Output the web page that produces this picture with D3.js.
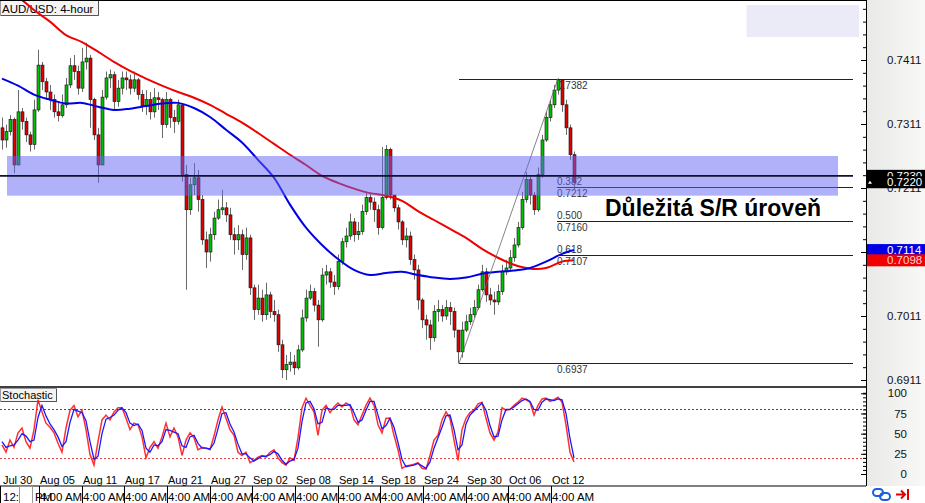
<!DOCTYPE html>
<html><head><meta charset="utf-8">
<script src="https://cdn.jsdelivr.net/npm/d3@7"></script>
<style>
body{margin:0;background:#fff;}
svg{display:block;font-family:"Liberation Sans",Arial,sans-serif;}
</style></head><body>
<svg id="c" width="925" height="503"></svg>
<script>
// ---------------- DATA ----------------
const firstOpen = 0.7305;
const closes = [0.7286,0.7299,0.7318,0.7247,0.7330,0.7315,0.7294,0.7279,0.7333,0.7403,
0.7377,0.7361,0.7349,0.7330,0.7324,0.7341,0.7372,0.7402,0.7393,0.7367,
0.7408,0.7414,0.7349,0.7294,0.7247,0.7353,0.7383,0.7388,0.7346,0.7367,
0.7383,0.7380,0.7367,0.7380,0.7357,0.7339,0.7349,0.7330,0.7352,0.7349,
0.7310,0.7349,0.7321,0.7315,0.7341,0.7232,0.7177,0.7216,0.7227,0.7193,
0.7130,0.7111,0.7138,0.7164,0.7177,0.7180,0.7169,0.7138,0.7130,0.7138,
0.7107,0.7133,0.7055,0.7021,0.7039,0.7013,0.7044,0.7018,0.7013,0.6966,
0.6927,0.6935,0.6939,0.6930,0.6958,0.7008,0.7039,0.7049,0.7028,0.7005,
0.7075,0.7080,0.7064,0.7057,0.7096,0.7127,0.7136,0.7158,0.7138,0.7143,
0.7174,0.7196,0.7189,0.7177,0.7149,0.7196,0.7271,0.7200,0.7180,0.7158,
0.7130,0.7136,0.7099,0.7083,0.7036,0.7005,0.6997,0.6977,0.7018,0.7021,
0.7011,0.7024,0.7018,0.6989,0.6955,0.6989,0.7002,0.7013,0.7024,0.7052,
0.7080,0.7044,0.7036,0.7033,0.7049,0.7080,0.7086,0.7102,0.7122,0.7149,
0.7193,0.7224,0.7200,0.7177,0.7232,0.7286,0.7321,0.7341,0.7364,0.7380,
0.7341,0.7305,0.7263,0.7220];
const highs = [0.7321,0.7310,0.7325,0.7321,0.7364,0.7336,0.7321,0.7299,0.7349,0.7427,
0.7408,0.7383,0.7372,0.7357,0.7346,0.7357,0.7383,0.7414,0.7419,0.7402,
0.7430,0.7438,0.7419,0.7352,0.7305,0.7364,0.7393,0.7396,0.7393,0.7380,
0.7393,0.7393,0.7388,0.7393,0.7383,0.7364,0.7364,0.7361,0.7367,0.7361,
0.7352,0.7361,0.7352,0.7333,0.7349,0.7344,0.7247,0.7227,0.7250,0.7239,
0.7200,0.7143,0.7149,0.7174,0.7193,0.7208,0.7189,0.7180,0.7149,0.7153,
0.7146,0.7149,0.7138,0.7060,0.7060,0.7052,0.7063,0.7049,0.7036,0.7021,
0.6974,0.6950,0.6955,0.6950,0.6966,0.7021,0.7052,0.7060,0.7055,0.7036,
0.7086,0.7091,0.7086,0.7075,0.7107,0.7133,0.7149,0.7171,0.7164,0.7158,
0.7185,0.7205,0.7203,0.7196,0.7185,0.7275,0.7278,0.7274,0.7200,0.7185,
0.7161,0.7149,0.7143,0.7107,0.7091,0.7039,0.7013,0.7005,0.7028,0.7036,
0.7028,0.7036,0.7033,0.7024,0.6989,0.7002,0.7013,0.7024,0.7036,0.7060,
0.7091,0.7086,0.7055,0.7049,0.7060,0.7091,0.7099,0.7114,0.7133,0.7158,
0.7205,0.7236,0.7230,0.7205,0.7243,0.7294,0.7330,0.7349,0.7372,0.7382,
0.7380,0.7349,0.7310,0.7268];
const lows = [0.7271,0.7274,0.7293,0.7234,0.7247,0.7302,0.7283,0.7268,0.7271,0.7330,
0.7364,0.7349,0.7333,0.7321,0.7315,0.7321,0.7336,0.7367,0.7380,0.7357,
0.7361,0.7396,0.7305,0.7286,0.7219,0.7247,0.7349,0.7367,0.7333,0.7338,
0.7357,0.7364,0.7357,0.7361,0.7349,0.7330,0.7325,0.7318,0.7321,0.7333,
0.7289,0.7305,0.7305,0.7297,0.7310,0.7221,0.7052,0.7169,0.7200,0.7174,
0.7122,0.7086,0.7096,0.7130,0.7161,0.7169,0.7158,0.7130,0.7107,0.7114,
0.7083,0.7099,0.7044,0.7005,0.7013,0.7002,0.7005,0.7008,0.7002,0.6955,
0.6914,0.6911,0.6924,0.6919,0.6927,0.6955,0.7002,0.7036,0.7018,0.6963,
0.7002,0.7060,0.7055,0.7044,0.7052,0.7091,0.7118,0.7130,0.7127,0.7130,
0.7138,0.7169,0.7177,0.7158,0.7138,0.7146,0.7193,0.7193,0.7174,0.7146,
0.7122,0.7118,0.7091,0.7068,0.7021,0.6992,0.6974,0.6958,0.6971,0.7002,
0.7002,0.7005,0.6997,0.6977,0.6937,0.6946,0.6986,0.6997,0.7008,0.7021,
0.7049,0.7033,0.7028,0.7013,0.7028,0.7044,0.7075,0.7080,0.7096,0.7118,
0.7146,0.7188,0.7185,0.7169,0.7174,0.7227,0.7283,0.7315,0.7336,0.7357,
0.7330,0.7294,0.7255,0.7208];

// moving averages sampled at bar indices
const maIndex = [0,4,8,12,16,20,24,28,32,36,40,44,48,52,56,60,64,68,72,76,80,84,88,92,96,100,104,108,112,116,120,124,128,132,136,140,143];
const redMA = [0.7528,0.7510,0.7489,0.7471,0.7450,0.7439,0.7424,0.7408,0.7394,0.7382,0.7371,0.7361,0.7352,0.7341,0.7327,0.7313,0.7297,0.7280,0.7263,0.7247,0.7230,0.7219,0.7210,0.7203,0.7199,0.7191,0.7175,0.7161,0.7147,0.7133,0.7116,0.7102,0.7091,0.7085,0.7086,0.7096,0.7098];
const blueMA = [0.7382,0.7371,0.7357,0.7349,0.7343,0.7344,0.7338,0.7333,0.7335,0.7339,0.7343,0.7344,0.7336,0.7322,0.7302,0.7282,0.7255,0.7227,0.7185,0.7149,0.7122,0.7100,0.7083,0.7075,0.7078,0.7080,0.7075,0.7071,0.7069,0.7071,0.7077,0.7080,0.7082,0.7086,0.7096,0.7108,0.7114];

// stochastic
const stochK = [36,27,42,33,51,57,40,32,55,92, 77,63,58,51,38,27,57,79,85,71, 79,55,24,11,40,67,73,67,77,82,
82,69,55,63,61,46,20,33,40,32, 46,63,46,57,46,23,42,51,45,30, 33,32,30,47,67,83,69,55,48,27,
23,27,14,17,21,23,21,27,30,20, 14,11,20,17,45,82,94,85,77,48, 79,85,76,83,88,83,88,85,67,61,
73,85,94,85,61,51,69,69,48,30, 7,10,11,12,14,7,6,23,42,48, 67,77,69,42,17,55,69,76,79,87,
89,69,51,42,52,82,79,80,85,89, 94,92,89,73,85,93,94,90,92,95, 89,61,27,15];
const stochD = [40,33,35,36,42,50,47,40,42,70, 85,72,62,55,46,34,40,64,80,78, 76,66,40,18,22,50,68,70,73,79,
82,76,63,60,62,54,32,27,36,35, 40,55,54,52,50,35,33,46,48,38, 32,32,31,38,56,75,76,62,52,37,
25,25,20,16,19,22,22,24,28,25, 17,12,16,18,32,65,88,90,81,62, 64,82,80,80,85,85,85,86,76,64,
67,79,90,90,73,56,60,69,58,39, 18,9,10,11,13,10,7,15,32,45, 58,72,73,55,30,36,62,73,78,83,
88,79,60,46,47,67,80,80,83,87, 91,93,90,80,79,89,93,92,91,93, 92,75,44,20];
const stochLevels = [80, 20];

// axes
const priceTicks = [0.7411,0.7311,0.7211,0.7111,0.7011,0.6911];
const stochTicks = [0,25,50,75,100];
const dateLabels = ["Jul 30","Aug 05","Aug 11","Aug 17","Aug 21","Aug 27","Sep 02","Sep 08","Sep 14","Sep 18","Sep 24","Sep 30","Oct 06","Oct 12"];
const dateTickIndex = [-1.42,9.25,19.92,30.58,41.25,51.92,62.58,73.25,83.92,94.58,105.25,115.92,126.58,137.25];
const timeLabel = "4:00 AM";

// drawings
const srLevel = 0.7230;
const srZone = [0.7199, 0.7261];
const fibLow = {index:114.25, price:0.6937};
const fibHigh = {index:139, price:0.7382};
const fibLevels = [
  {ratio:"", price:0.7382, from:"low"},
  {ratio:"0.382", price:0.7212, from:"high"},
  {ratio:"0.500", price:0.7160, from:"high"},
  {ratio:"0.618", price:0.7107, from:"high"},
  {ratio:"", price:0.6937, from:"low"}
];
const title = "AUD/USD: 4-hour";
const note = "Důležitá S/R úroveň";

// ---------------- CHART ----------------
const svg = d3.select("#c");
const W = 925, H = 503, AX = 866, MAIN_B = 386.5, ST_T = 387.5, ST_B = 486;
const x = d3.scaleLinear().domain([0, closes.length-1]).range([2, 574]);
const y = d3.scaleLinear().domain([0.6911, 0.7411]).range([380, 60]);
const ys = d3.scaleLinear().domain([0, 100]).range([474, 393.3]);
const opens = closes.map((c,i)=> i===0 ? firstOpen : closes[i-1]);

const defs = svg.append("defs");
const grad = defs.append("linearGradient").attr("id","gr").attr("x1",0).attr("x2",1).attr("y1",0).attr("y2",0);
grad.append("stop").attr("offset","0%").attr("stop-color","#e9e9e7");
grad.append("stop").attr("offset","100%").attr("stop-color","#f8f8f6");
defs.append("clipPath").attr("id","cm").append("rect").attr("x",0).attr("y",0).attr("width",AX).attr("height",MAIN_B);
defs.append("clipPath").attr("id","cs").append("rect").attr("x",0).attr("y",ST_T).attr("width",AX).attr("height",ST_B-ST_T);

svg.append("rect").attr("width",W).attr("height",H).attr("fill","#fff");
svg.append("rect").attr("x",AX).attr("y",0).attr("width",W-AX).attr("height",ST_B).attr("fill","url(#gr)");

const gm = svg.append("g").attr("clip-path","url(#cm)");

// title box
const tb = gm.append("g");
tb.append("rect").attr("x",0.5).attr("y",0.5).attr("width",98).attr("height",15).attr("fill","#f4f4f4").attr("stroke","#9a9a9a");
tb.append("path").attr("d","M1,15.5H98.5V1").attr("fill","none").attr("stroke","#555");
tb.append("text").attr("x",2).attr("y",12.5).attr("font-size",11.5).attr("fill","#000").text(title);

// top-right box
gm.append("rect").attr("x",746.5).attr("y",5).attr("width",112.5).attr("height",32).attr("fill","#ebebf7");

// fib labels (under candles)
const fibRight = AX - 13;
const fl = gm.append("g").attr("font-size",10).attr("fill","#333");
fibLevels.forEach(f=>{
  const yy = y(f.price);
  if (f.ratio) fl.append("text").attr("x",x(fibHigh.index)-1).attr("y",yy-2).text(f.ratio);
  fl.append("text").attr("x",x(fibHigh.index)-1).attr("y",yy+10).text(f.price.toFixed(4));
});

// candles
const gc = gm.append("g");
gc.selectAll("line.w").data(closes).join("line").attr("class","w")
  .attr("x1",(d,i)=>Math.round(x(i))+0.5).attr("x2",(d,i)=>Math.round(x(i))+0.5)
  .attr("y1",(d,i)=>y(highs[i])).attr("y2",(d,i)=>y(lows[i]))
  .attr("stroke","#6a6a6a").attr("stroke-width",1);
gc.selectAll("rect.b").data(closes).join("rect").attr("class","b")
  .attr("x",(d,i)=>Math.round(x(i))-1)
  .attr("y",(d,i)=>y(Math.max(opens[i],d)))
  .attr("width",3)
  .attr("height",(d,i)=>Math.max(1, Math.abs(y(opens[i])-y(d))))
  .attr("fill",(d,i)=> d>=opens[i] ? "#00c000" : "#e00000")
  .attr("stroke","#111").attr("stroke-width",0.6);

// moving averages
const maLine = arr => d3.line().x((d,k)=>x(maIndex[k])).y(d=>y(d)).curve(d3.curveCatmullRom)(arr);
gm.append("path").attr("d",maLine(redMA)).attr("fill","none").attr("stroke","#f00000").attr("stroke-width",2);
gm.append("path").attr("d",maLine(blueMA)).attr("fill","none").attr("stroke","#0000e6").attr("stroke-width",2);

// fib lines and trend line
fibLevels.forEach(f=>{
  const x0 = f.from==="low" ? x(fibLow.index) : x(fibHigh.index)-1;
  gm.append("line").attr("x1",x0).attr("x2",fibRight).attr("y1",Math.round(y(f.price))+0.5).attr("y2",Math.round(y(f.price))+0.5)
    .attr("stroke","#222").attr("stroke-width",1);
});
gm.append("line").attr("x1",x(fibLow.index)).attr("y1",y(fibLow.price)).attr("x2",x(fibHigh.index)).attr("y2",y(fibHigh.price))
  .attr("stroke","#666").attr("stroke-width",0.8);

// S/R zone
gm.append("rect").attr("x",7).attr("width",838-7).attr("y",y(srZone[1])).attr("height",y(srZone[0])-y(srZone[1]))
  .attr("fill","#6464f5").attr("opacity",0.5);
gm.append("line").attr("x1",0).attr("x2",fibRight).attr("y1",y(srLevel)).attr("y2",y(srLevel))
  .attr("stroke","#101030").attr("stroke-width",1.6);

gm.append("text").attr("x",605).attr("y",216).attr("font-size",23).attr("font-weight","bold").attr("fill","#000").text(note);

// price axis
const pa = svg.append("g").attr("transform",`translate(${AX},0)`);
const minor = d3.range(0.6891, 0.7520, 0.002);
pa.call(d3.axisLeft(y).tickValues(minor).tickSize(3).tickFormat(""));
pa.append("g").call(d3.axisLeft(y).tickValues(priceTicks).tickSize(5).tickFormat(""));
pa.append("g").call(d3.axisRight(y).tickValues(priceTicks).tickSize(0).tickPadding(21).tickFormat(d3.format(".4f")));
pa.selectAll(".domain").remove();
pa.selectAll("text").attr("font-size",11.5).attr("font-family","Liberation Sans, Arial, sans-serif").attr("fill","#111");
pa.selectAll("line").attr("stroke","#000");

// price tags
function tag(price, bg, fg, dy){
  const yy = y(price);
  const g = svg.append("g");
  g.append("rect").attr("x",AX).attr("y",yy-6+dy).attr("width",W-AX).attr("height",12).attr("fill",bg);
  g.append("text").attr("x",887).attr("y",yy+4).attr("font-size",11.5).attr("fill",fg).text(price.toFixed(4));
  return g;
}
tag(srLevel, "#000", "#fff", 0);
const lastTag = tag(closes[closes.length-1], "#000", "#fff", 0);
lastTag.append("path").attr("d",`M868,${y(closes[closes.length-1])+1.5}l2,-3l2,3z`).attr("fill","#fff");
tag(blueMA[blueMA.length-1], "#0000e6", "#fff", 0);
tag(redMA[redMA.length-1], "#f00000", "#ffd0d0", 0);

// panel borders
svg.append("line").attr("x1",0).attr("x2",AX).attr("y1",0.5).attr("y2",0.5).attr("stroke","#000");
svg.append("line").attr("x1",0).attr("x2",AX).attr("y1",387).attr("y2",387).attr("stroke","#000").attr("stroke-width",1.5);
svg.append("line").attr("x1",0).attr("x2",AX).attr("y1",486).attr("y2",486).attr("stroke","#000").attr("stroke-width",1.2);
svg.append("line").attr("x1",AX+0.5).attr("x2",AX+0.5).attr("y1",0).attr("y2",ST_B).attr("stroke","#000");

// stochastic panel
const gs = svg.append("g").attr("clip-path","url(#cs)");
const sb = gs.append("g");
sb.append("rect").attr("x",0.5).attr("y",388.5).attr("width",56).attr("height",13).attr("fill","#f4f4f4").attr("stroke","#9a9a9a");
sb.append("path").attr("d","M1,401.5H56.5V389").attr("fill","none").attr("stroke","#555");
sb.append("text").attr("x",2).attr("y",399).attr("font-size",11).attr("fill","#000").text("Stochastic");

gs.selectAll("line.lv").data(stochLevels).join("line").attr("class","lv")
  .attr("x1",0).attr("x2",AX).attr("y1",d=>Math.round(ys(d))+0.5).attr("y2",d=>Math.round(ys(d))+0.5)
  .attr("stroke",d=>d>50?"#3a3ae8":"#e04848").attr("stroke-width",1).attr("stroke-dasharray","2,2");
const sl = d3.line().x((d,i)=>x(i)).y(d=>ys(d));
gs.append("path").attr("d",sl(stochK)).attr("fill","none").attr("stroke","#ff1a1a").attr("stroke-width",1.5).attr("opacity",0.9);
gs.append("path").attr("d",sl(stochD)).attr("fill","none").attr("stroke","#1a1aff").attr("stroke-width",1.3);

// date labels
const dl = svg.append("g").attr("font-size",11).attr("fill","#000");
dateLabels.forEach((d,k)=>{
  const xx = Math.max(3, Math.round(x(dateTickIndex[k]))+1);
  dl.append("text").attr("x",xx).attr("y",483.5).text(d);
});

// stochastic axis
const sa = svg.append("g").attr("transform",`translate(${AX},0)`);
sa.call(d3.axisLeft(ys).tickValues(d3.range(0,101,5)).tickSize(3).tickFormat(""));
sa.append("g").call(d3.axisLeft(ys).tickValues(stochTicks).tickSize(5).tickFormat(""));
sa.append("g").call(d3.axisRight(ys).tickValues(stochTicks).tickSize(0).tickPadding(41).tickFormat(d3.format("d")));
sa.selectAll(".domain").remove();
sa.selectAll("text").attr("font-size",11.5).attr("font-family","Liberation Sans, Arial, sans-serif").attr("fill","#111").attr("text-anchor","end");
sa.selectAll("line").attr("stroke","#000");

// time row
const tr = svg.append("g").attr("font-size",11.5).attr("fill","#000");
tr.append("text").attr("x",3).attr("y",501).text("12:");
tr.append("text").attr("x",35).attr("y",501).text("PM");
tr.append("rect").attr("x",19.5).attr("y",486.5).attr("width",13).attr("height",17).attr("fill","#fff").attr("stroke","#999");
tr.append("line").attr("x1",0.5).attr("x2",0.5).attr("y1",486).attr("y2",H).attr("stroke","#000");
dateTickIndex.slice(1).forEach(t=>{
  const xx = Math.round(x(t))+0.5;
  tr.append("text").attr("x",xx+0.5).attr("y",501).text(timeLabel);
});
dateTickIndex.slice(1).forEach(t=>{
  const xx = Math.round(x(t))+0.5;
  tr.append("line").attr("x1",xx).attr("x2",xx).attr("y1",486).attr("y2",H).attr("stroke","#000");
});

// icons
const ic = svg.append("g");
ic.append("rect").attr("x",873).attr("y",489).attr("width",10).attr("height",7).attr("rx",3.5).attr("fill","none").attr("stroke","#1a5fe0").attr("stroke-width",2);
ic.append("rect").attr("x",880).attr("y",493).attr("width",10).attr("height",7).attr("rx",3.5).attr("fill","none").attr("stroke","#1a5fe0").attr("stroke-width",2);
ic.append("path").attr("d","M896,494.5H905M901,490.5l4,4l-4,4").attr("fill","none").attr("stroke","#e00000").attr("stroke-width",2);
ic.append("path").attr("d","M908,489V500").attr("stroke","#e00000").attr("stroke-width",2);
</script>
</body></html>
